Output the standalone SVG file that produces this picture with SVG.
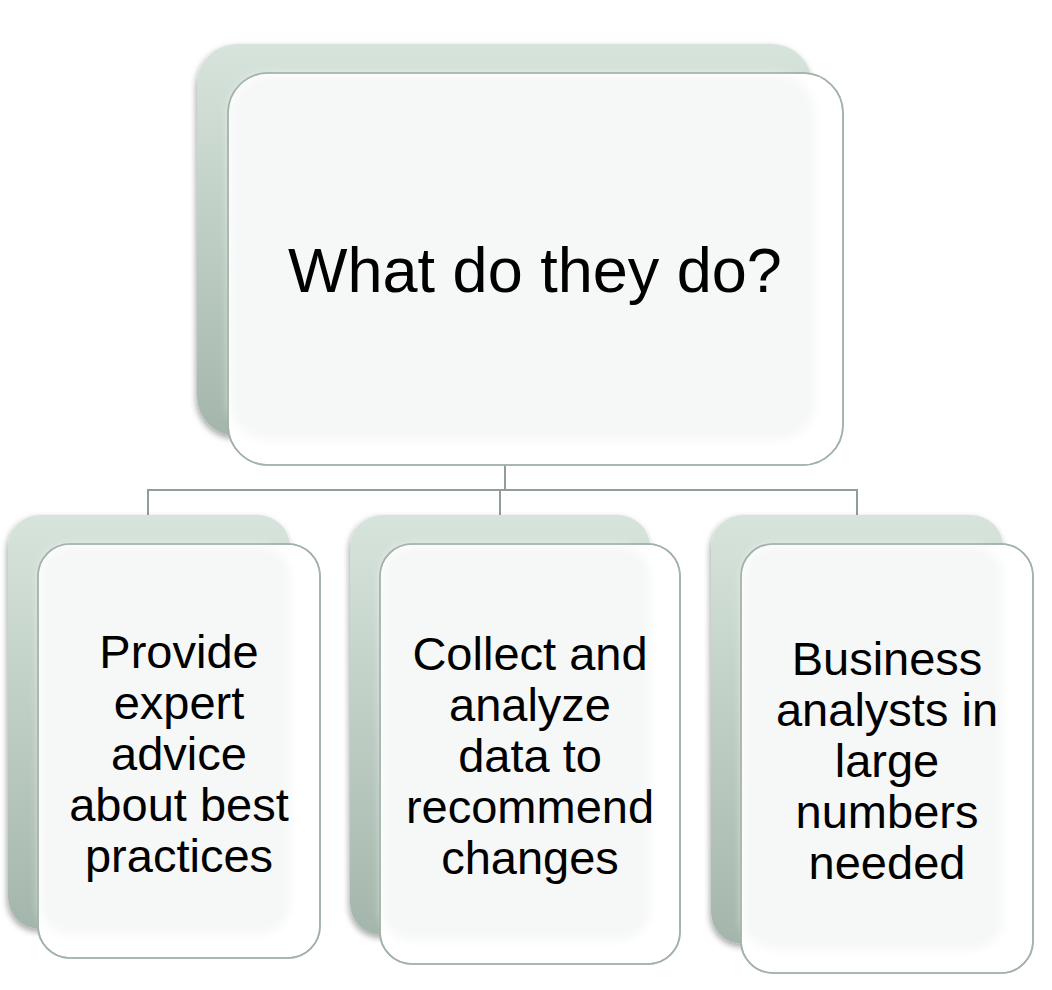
<svg xmlns="http://www.w3.org/2000/svg" width="1052" height="990" viewBox="0 0 1052 990">
<defs>
<linearGradient id="backGrad" x1="0" y1="0" x2="0" y2="1">
<stop offset="0" stop-color="#d7e4dc"/>
<stop offset="1" stop-color="#a4b6ab"/>
</linearGradient>
<filter id="shadow" x="-10%" y="-10%" width="120%" height="120%">
<feDropShadow dx="-1" dy="3" stdDeviation="3" flood-color="#000" flood-opacity="0.35"/>
</filter>
<filter id="soft" x="-10%" y="-10%" width="120%" height="120%">
<feGaussianBlur stdDeviation="5"/>
</filter>
<style>
.back{fill:url(#backGrad);filter:url(#shadow);}
.front{fill:#ffffff;stroke:#a3b3aa;stroke-width:1.6;}
.inner{fill:#f6f7f7;filter:url(#soft);}
.edge{fill:none;stroke:#a3b3aa;stroke-width:1.6;}
.conn{fill:none;stroke:#909e96;stroke-width:2;}
.lbl{font-family:"Liberation Sans",Arial,Helvetica,sans-serif;fill:#000;text-anchor:middle;}
</style>
</defs>

<g id="connectors">
<path class="conn" d="M505,465 V490 M148,490 H857 M148,489 V515 M500,490 V515 M857,489 V515"/>
</g>

<g id="main">
<rect class="back" x="197" y="44" width="615" height="392" rx="40"/>
<rect class="front" x="228" y="73" width="615" height="392" rx="40"/>
<rect class="inner" x="230" y="75" width="585" height="365" rx="38"/>
<rect class="edge" x="228" y="73" width="615" height="392" rx="40"/>
<text class="lbl" x="535" y="292" font-size="63">What do they do?</text>
</g>

<g id="child1">
<rect class="back" x="8" y="515" width="282" height="414" rx="32"/>
<rect class="front" x="38" y="544" width="282" height="414" rx="32"/>
<rect class="inner" x="40" y="546" width="250" height="388" rx="30"/>
<rect class="edge" x="38" y="544" width="282" height="414" rx="32"/>
<text class="lbl" font-size="47"><tspan x="179" y="668">Provide</tspan><tspan x="179" y="719">expert</tspan><tspan x="179" y="770">advice</tspan><tspan x="179" y="821">about best</tspan><tspan x="179" y="872">practices</tspan></text>
</g>

<g id="child2">
<rect class="back" x="350" y="515" width="300" height="420" rx="32"/>
<rect class="front" x="380" y="544" width="300" height="420" rx="32"/>
<rect class="inner" x="382" y="546" width="268" height="394" rx="30"/>
<rect class="edge" x="380" y="544" width="300" height="420" rx="32"/>
<text class="lbl" font-size="47"><tspan x="530" y="670">Collect and</tspan><tspan x="530" y="721">analyze</tspan><tspan x="530" y="772">data to</tspan><tspan x="530" y="823">recommend</tspan><tspan x="530" y="874">changes</tspan></text>
</g>

<g id="child3">
<rect class="back" x="711" y="515" width="292" height="429" rx="32"/>
<rect class="front" x="741" y="544" width="292" height="429" rx="32"/>
<rect class="inner" x="743" y="546" width="260" height="403" rx="30"/>
<rect class="edge" x="741" y="544" width="292" height="429" rx="32"/>
<text class="lbl" font-size="47"><tspan x="887" y="675">Business</tspan><tspan x="887" y="726">analysts in</tspan><tspan x="887" y="777">large</tspan><tspan x="887" y="828">numbers</tspan><tspan x="887" y="879">needed</tspan></text>
</g>
</svg>
